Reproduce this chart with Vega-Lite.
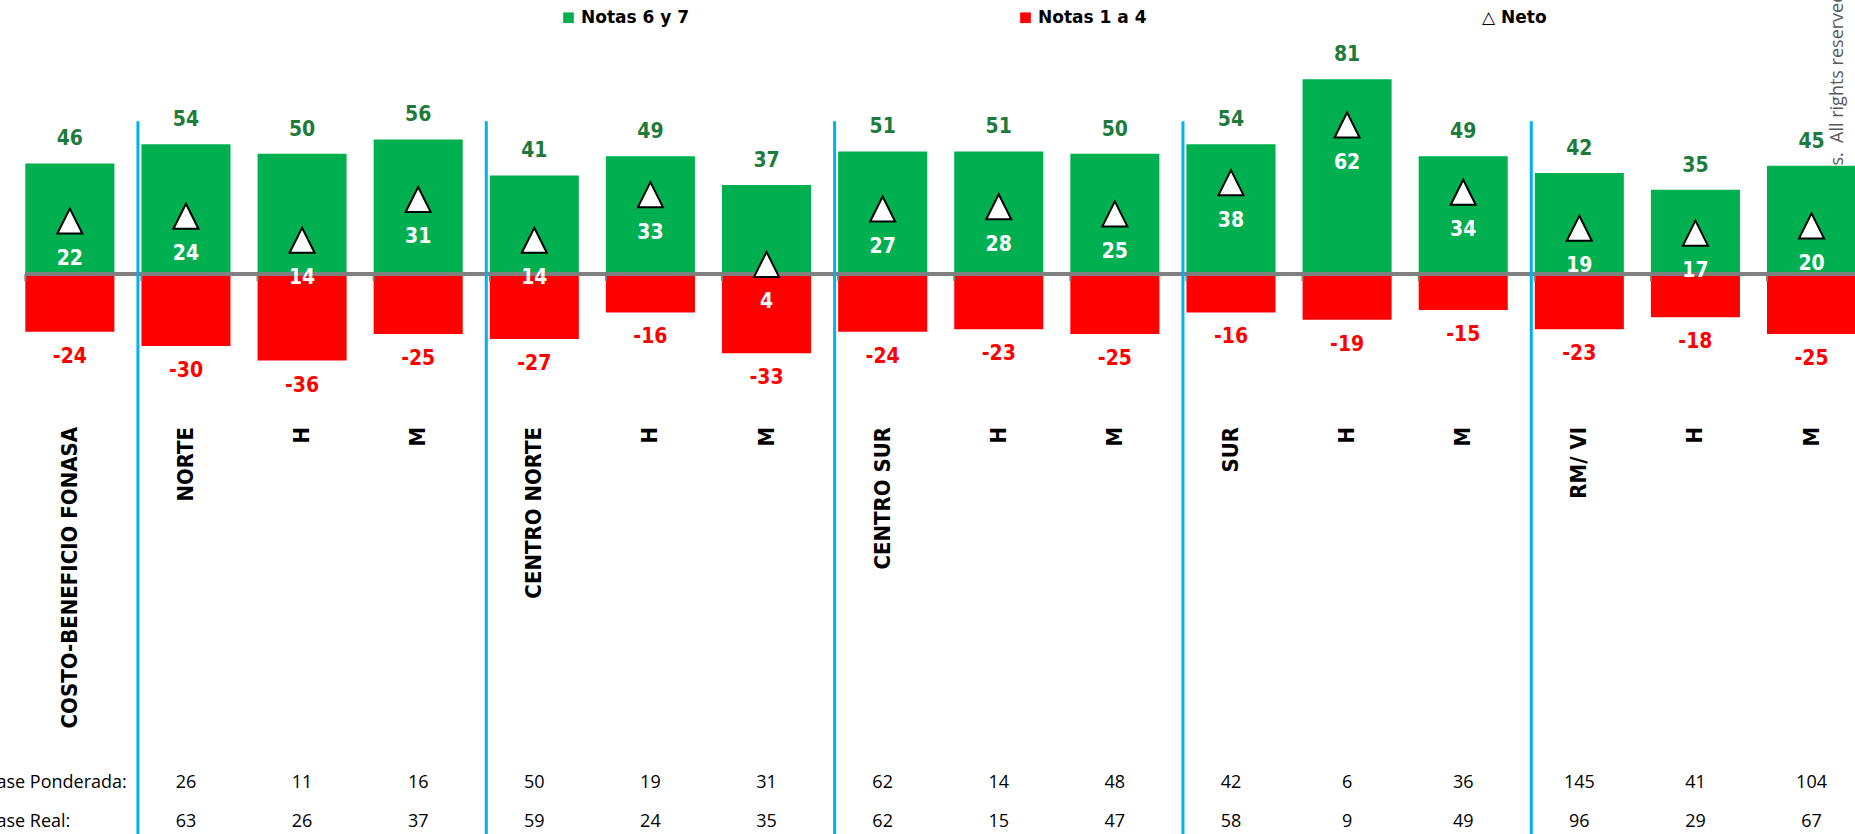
{
  "$schema": "https://vega.github.io/schema/vega-lite/v6.json",
  "width": 1855,
  "height": 834,
  "autosize": {"type": "none"},
  "padding": 0,
  "background": "#ffffff",
  "config": {"view": {"stroke": null}},
  "data": {
    "values": [
      {"id": "c01", "name": "COSTO-BENEFICIO FONASA", "pos": 46, "neg": -24, "neto": 22},
      {"id": "c02", "name": "NORTE", "pos": 54, "neg": -30, "neto": 24, "bp": 26, "br": 63, "sep": true},
      {"id": "c03", "name": "H", "pos": 50, "neg": -36, "neto": 14, "bp": 11, "br": 26},
      {"id": "c04", "name": "M", "pos": 56, "neg": -25, "neto": 31, "bp": 16, "br": 37},
      {"id": "c05", "name": "CENTRO NORTE", "pos": 41, "neg": -27, "neto": 14, "bp": 50, "br": 59, "sep": true},
      {"id": "c06", "name": "H", "pos": 49, "neg": -16, "neto": 33, "bp": 19, "br": 24},
      {"id": "c07", "name": "M", "pos": 37, "neg": -33, "neto": 4, "bp": 31, "br": 35},
      {"id": "c08", "name": "CENTRO SUR", "pos": 51, "neg": -24, "neto": 27, "bp": 62, "br": 62, "sep": true},
      {"id": "c09", "name": "H", "pos": 51, "neg": -23, "neto": 28, "bp": 14, "br": 15},
      {"id": "c10", "name": "M", "pos": 50, "neg": -25, "neto": 25, "bp": 48, "br": 47},
      {"id": "c11", "name": "SUR", "pos": 54, "neg": -16, "neto": 38, "bp": 42, "br": 58, "sep": true},
      {"id": "c12", "name": "H", "pos": 81, "neg": -19, "neto": 62, "bp": 6, "br": 9},
      {"id": "c13", "name": "M", "pos": 49, "neg": -15, "neto": 34, "bp": 36, "br": 49},
      {"id": "c14", "name": "RM/ VI", "pos": 42, "neg": -23, "neto": 19, "bp": 145, "br": 96, "sep": true},
      {"id": "c15", "name": "H", "pos": 35, "neg": -18, "neto": 17, "bp": 41, "br": 29},
      {"id": "c16", "name": "M", "pos": 45, "neg": -25, "neto": 20, "bp": 104, "br": 67}
    ]
  },
  "encoding": {
    "x": {
      "field": "id",
      "type": "nominal",
      "sort": null,
      "scale": {
        "domain": ["c01","c02","c03","c04","c05","c06","c07","c08","c09","c10","c11","c12","c13","c14","c15","c16"],
        "range": [11.8, 1869.6],
        "paddingInner": 0.233,
        "paddingOuter": 0.1165
      },
      "axis": null
    }
  },
  "layer": [
    {
      "data": {"values": [{"id": "c16", "t": "s.\u00a0\u00a0All rights reserved."}]},
      "mark": {"type": "text", "angle": 270, "align": "left", "baseline": "alphabetic", "xOffset": 31.7, "font": "Open Sans", "fontSize": 18, "color": "#595959"},
      "encoding": {
        "y": {"datum": 45.1, "type": "quantitative", "scale": {"domain": [-232.95, 113.98], "nice": false, "zero": false}, "axis": null},
        "text": {"field": "t", "type": "nominal"}
      }
    },
    {
      "mark": {"type": "bar"},
      "encoding": {
        "y": {"field": "pos", "type": "quantitative", "scale": {"domain": [-232.95, 113.98], "nice": false, "zero": false}, "axis": null},
        "color": {
          "datum": "Notas 6 y 7",
          "type": "nominal",
          "scale": {"domain": ["Notas 6 y 7", "Notas 1 a 4"], "range": ["#00B050", "#FF0000"]},
          "legend": {
            "title": null,
            "orient": "none",
            "legendX": 560,
            "legendY": 9,
            "direction": "horizontal",
            "columnPadding": 327,
            "padding": 0,
            "labelFont": "DejaVu Sans",
            "labelFontWeight": "bold",
            "labelFontSize": 17,
            "labelColor": "#000000",
            "labelOffset": 4,
            "labelLimit": 300,
            "symbolSize": 114,
            "symbolType": "square",
            "symbolStrokeWidth": 0
          }
        }
      }
    },
    {
      "mark": {"type": "bar"},
      "encoding": {
        "y": {"field": "neg", "type": "quantitative", "scale": {"domain": [-232.95, 113.98], "nice": false, "zero": false}, "axis": null},
        "color": {"datum": "Notas 1 a 4", "type": "nominal"}
      }
    },
    {
      "mark": {"type": "rule", "color": "#808080", "strokeWidth": 2.5},
      "encoding": {
        "x": {"datum": "c01", "type": "nominal", "bandPosition": 0, "scale": {"domain": ["c01","c02","c03","c04","c05","c06","c07","c08","c09","c10","c11","c12","c13","c14","c15","c16"], "range": [11.8, 1869.6], "paddingInner": 0.233, "paddingOuter": 0.1165}, "axis": null},
        "x2": {"datum": "c16", "bandPosition": 1},
        "y": {"datum": 0, "type": "quantitative", "scale": {"domain": [-232.95, 113.98], "nice": false, "zero": false}, "axis": null}
      }
    },
    {
      "mark": {"type": "rule", "color": "#808080", "strokeWidth": 2},
      "encoding": {
        "x": {"field": "id", "type": "nominal", "bandPosition": 0, "axis": null},
        "y": {"datum": 0, "type": "quantitative", "scale": {"domain": [-232.95, 113.98], "nice": false, "zero": false}, "axis": null},
        "y2": {"datum": -3}
      }
    },
    {
      "transform": [{"filter": "datum.sep === true"}],
      "mark": {"type": "rule", "color": "#00B0F0", "strokeWidth": 3, "xOffset": -3.5},
      "encoding": {
        "x": {"field": "id", "type": "nominal", "bandPosition": 0, "axis": null},
        "y": {"datum": 63.5, "type": "quantitative", "scale": {"domain": [-232.95, 113.98], "nice": false, "zero": false}, "axis": null},
        "y2": {"datum": -233}
      }
    },
    {
      "mark": {"type": "text", "baseline": "middle", "dy": -24, "font": "DejaVu Sans Condensed, DejaVu Sans", "fontWeight": "bold", "fontSize": 21, "color": "#1E7B3C"},
      "encoding": {
        "y": {"field": "pos", "type": "quantitative", "axis": null},
        "text": {"field": "pos", "type": "nominal"}
      }
    },
    {
      "mark": {"type": "text", "baseline": "middle", "dy": 25, "font": "DejaVu Sans Condensed, DejaVu Sans", "fontWeight": "bold", "fontSize": 21, "color": "#FF0000"},
      "encoding": {
        "y": {"field": "neg", "type": "quantitative", "axis": null},
        "text": {"field": "neg", "type": "nominal"}
      }
    },
    {
      "mark": {"type": "point", "size": 625, "filled": true, "fill": "#FFFFFF", "stroke": "#000000", "strokeWidth": 2, "opacity": 1},
      "encoding": {
        "y": {"field": "neto", "type": "quantitative", "axis": null},
        "shape": {
          "datum": "Neto",
          "type": "nominal",
          "scale": {"domain": ["Neto"], "range": ["M0,-1L-1,1L1,1Z"]},
          "legend": {
            "title": null,
            "orient": "none",
            "legendX": 1465,
            "legendY": 9,
            "padding": 0,
            "labelFont": "DejaVu Sans",
            "labelFontWeight": "bold",
            "labelFontSize": 17,
            "labelColor": "#000000",
            "labelOffset": 0,
            "labelExpr": "'\u25b3 Neto'",
            "symbolSize": 0,
            "symbolStrokeWidth": 0,
            "symbolOpacity": 0
          }
        }
      }
    },
    {
      "mark": {"type": "text", "baseline": "middle", "dy": 38, "font": "DejaVu Sans Condensed, DejaVu Sans", "fontWeight": "bold", "fontSize": 21, "color": "#FFFFFF"},
      "encoding": {
        "y": {"field": "neto", "type": "quantitative", "axis": null},
        "text": {"field": "neto", "type": "nominal"}
      }
    },
    {
      "mark": {"type": "text", "angle": 270, "align": "right", "baseline": "middle", "font": "DejaVu Sans Condensed, DejaVu Sans", "fontWeight": "bold", "fontSize": 22, "color": "#000000"},
      "encoding": {
        "y": {"datum": -63.6, "type": "quantitative", "axis": null},
        "text": {"field": "name", "type": "nominal"}
      }
    },
    {
      "transform": [{"filter": "isValid(datum.bp)"}],
      "mark": {"type": "text", "baseline": "middle", "font": "Open Sans", "fontSize": 18, "color": "#000000"},
      "encoding": {
        "y": {"datum": -211.7, "type": "quantitative", "axis": null},
        "text": {"field": "bp", "type": "nominal"}
      }
    },
    {
      "transform": [{"filter": "isValid(datum.br)"}],
      "mark": {"type": "text", "baseline": "middle", "font": "Open Sans", "fontSize": 18, "color": "#000000"},
      "encoding": {
        "y": {"datum": -228.0, "type": "quantitative", "axis": null},
        "text": {"field": "br", "type": "nominal"}
      }
    },
    {
      "data": {"values": [{"id": "c01", "t1": "Base Ponderada:", "t2": "Base Real:"}]},
      "mark": {"type": "text", "align": "left", "baseline": "middle", "xOffset": -85, "font": "Open Sans", "fontSize": 18, "color": "#000000"},
      "encoding": {
        "y": {"datum": -211.7, "type": "quantitative", "axis": null},
        "text": {"field": "t1", "type": "nominal"}
      }
    },
    {
      "data": {"values": [{"id": "c01", "t1": "Base Ponderada:", "t2": "Base Real:"}]},
      "mark": {"type": "text", "align": "left", "baseline": "middle", "xOffset": -85, "font": "Open Sans", "fontSize": 18, "color": "#000000"},
      "encoding": {
        "y": {"datum": -228.0, "type": "quantitative", "axis": null},
        "text": {"field": "t2", "type": "nominal"}
      }
    }
  ]
}
